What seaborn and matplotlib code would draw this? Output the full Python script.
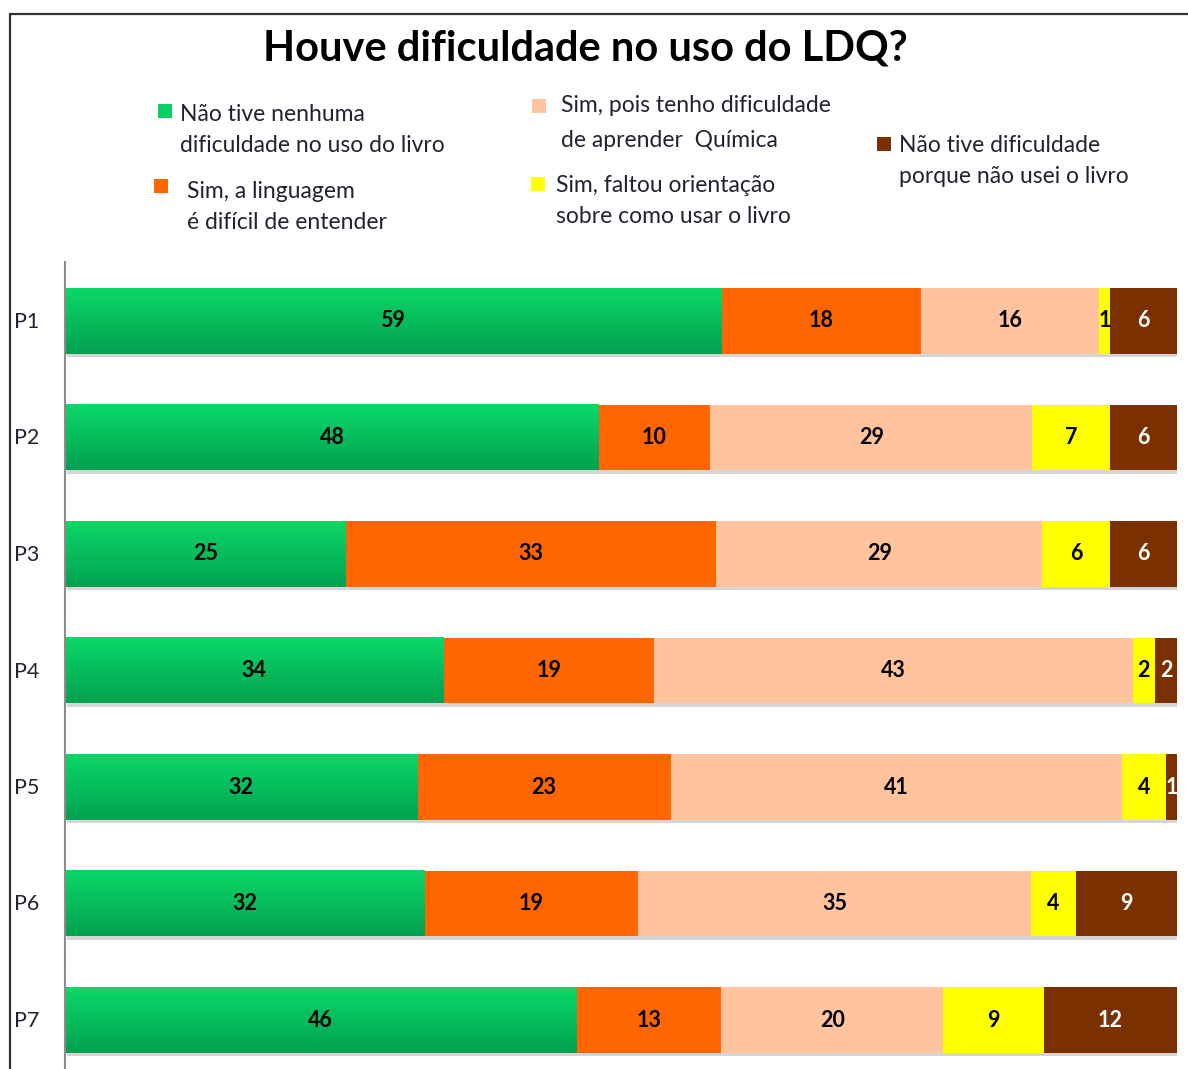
import numpy as np
import pandas as pd
import matplotlib
matplotlib.use("Agg")
import matplotlib.pyplot as plt
import matplotlib.patheffects as pe
from matplotlib.colors import LinearSegmentedColormap
from matplotlib.patches import Rectangle
import seaborn as sns

# ==========================================
# DATA
# ==========================================
questions = ["P1", "P2", "P3", "P4", "P5", "P6", "P7"]
nenhuma = [59, 48, 25, 34, 32, 32, 46]
linguagem = [18, 10, 33, 19, 23, 19, 13]
quimica = [16, 29, 29, 43, 41, 35, 20]
orientacao = [1, 7, 6, 2, 4, 4, 9]
nao_usei = [6, 6, 6, 2, 1, 9, 12]

series_names = [
    "Não tive nenhuma\ndificuldade no uso do livro",
    "Sim, a linguagem\né difícil de entender",
    "Sim, pois tenho dificuldade\nde aprender  Química",
    "Sim, faltou orientação\nsobre como usar o livro",
    "Não tive dificuldade\nporque não usei o livro",
]
colors = ["#07CF62", "#FF6600", "#FFC49E", "#FFFF00", "#7A3000"]
label_colors = ["black", "black", "black", "black", "white"]

df = pd.DataFrame({
    "q": questions,
    "s0": nenhuma, "s1": linguagem, "s2": quimica, "s3": orientacao, "s4": nao_usei,
})
cols = ["s0", "s1", "s2", "s3", "s4"]
# 100% stacked
share = df[cols].div(df[cols].sum(axis=1), axis=0) * 100
cum = share.cumsum(axis=1)

# ==========================================
# FIGURE
# ==========================================
sns.set_theme(style="white")
plt.rcParams["font.family"] = ["Lato", "DejaVu Sans"]
W, H = 1188, 1069
fig = plt.figure(figsize=(W / 100, H / 100), dpi=100)


def fx(x):
    return x / W


def fy(y):
    return 1 - y / H


ax = fig.add_axes([fx(65), 0, fx(1177) - fx(65), fy(262)])

# draw the layers from the longest cumulative to the shortest
for i in reversed(range(5)):
    plot_df = pd.DataFrame({"q": questions, "v": cum[cols[i]].values})
    sns.barplot(data=plot_df, x="v", y="q", color=colors[i], saturation=1,
                width=0.56, orient="h", ax=ax, linewidth=0)
    if i == 4:
        for p in ax.patches:
            p.set_path_effects([pe.SimplePatchShadow(offset=(1.5, -2.5), alpha=0.22,
                                                     shadow_rgbFace="#444444"),
                                pe.Normal()])

# vertical gradient on the green segment
green_cmap = LinearSegmentedColormap.from_list("g", ["#0BD868", "#02A150"])
grad = np.linspace(0, 1, 256).reshape(-1, 1)
for p in ax.containers[-1]:
    x0, y0 = p.get_x(), p.get_y()
    ax.imshow(grad, extent=(x0, x0 + p.get_width(), y0, y0 + p.get_height()),
              origin="lower", aspect="auto", cmap=green_cmap, zorder=p.get_zorder() + 0.1)

# value labels
for i, c in enumerate(cols):
    for j in range(len(questions)):
        xc = cum[c].iloc[j] - share[c].iloc[j] / 2
        ax.text(xc, j, str(df[c].iloc[j]), ha="center", va="center",
                fontsize=15.5, fontweight="bold", color=label_colors[i], zorder=10)

ax.set_xlim(0, 100)
ax.set_ylim(6.42, -0.506)
ax.set_xlabel("")
ax.set_ylabel("")
ax.set_xticks([])
ax.set_yticks([])
for s in ["top", "right", "bottom"]:
    ax.spines[s].set_visible(False)
ax.spines["left"].set_color("#8C8C8C")
ax.spines["left"].set_linewidth(1.5)

# y labels
for j, q in enumerate(questions):
    fig.text(fx(14), fy(322 + j * 116.5), q, ha="left", va="center",
             fontsize=15.5, color="#222233")

# title
fig.text(fx(585), fy(48), "Houve dificuldade no uso do LDQ?", ha="center", va="center",
         fontsize=30, fontweight="bold", color="black")

# legend (manual layout like the original)
leg_pos = [
    ((158, 104), (180, 130), 1.6),
    ((154, 179), (187, 207), 1.6),
    ((532, 99), (561, 123), 1.85),
    ((531, 177), (556, 201), 1.6),
    ((877, 137), (899, 161), 1.6),
]
for i, ((sx, sy), (tx, ty), ls) in enumerate(leg_pos):
    fig.patches.append(Rectangle((fx(sx), fy(sy + 14)), fx(14), 14 / H,
                                 transform=fig.transFigure, facecolor=colors[i],
                                 edgecolor="none", zorder=5))
    fig.text(fx(tx), fy(ty), series_names[i], ha="left", va="center",
             fontsize=16.5, color="#222233", linespacing=ls)

# outer frame
fig.patches.append(Rectangle((fx(10), -0.05), 1.2, fy(14) + 0.05, transform=fig.transFigure,
                             facecolor="none", edgecolor="#333333", linewidth=1.6, zorder=20))

fig.savefig("out.png", dpi=100)
